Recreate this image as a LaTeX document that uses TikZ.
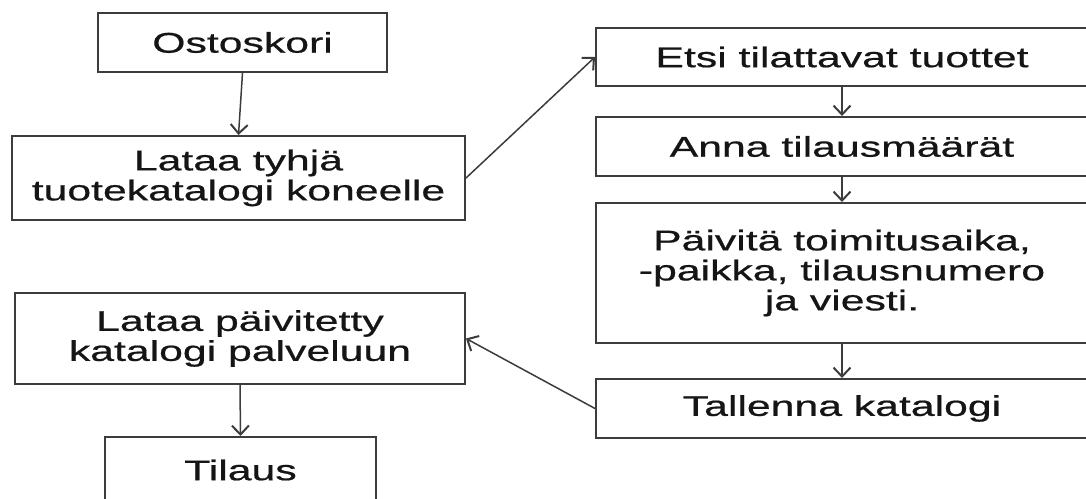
\documentclass[tikz,border=0pt]{standalone}
\usepackage{fontspec}
\setmainfont{Liberation Sans}[FakeStretch=1.5, FakeBold=0.6]
\usetikzlibrary{arrows.meta}
\definecolor{edgegray}{HTML}{3C3C3C}
\definecolor{inkgray}{HTML}{151515}
\tikzset{
  stepbox/.style={draw=edgegray, line width=2pt, fill=white, inner sep=0pt,
    align=center, text=inkgray,
    font=\fontsize{28.5}{30}\selectfont},
  flow/.style={draw=edgegray, line width=1.5pt,
    -{Straight Barb[length=9pt, width=17pt, line width=2pt]}},
}
\begin{document}
\begin{tikzpicture}[x=1pt, y=-1pt]
\useasboundingbox (0,0) rectangle (1086,498);
\fill[white] (0,0) rectangle (1086,498);

% left column
\node[stepbox, minimum width=289pt, minimum height=59pt] (ost) at (242.5,42.5) {Ostoskori};
\node[stepbox, minimum width=453pt, minimum height=84pt] (lt) at (238.5,178) {Lataa tyhjä\\tuotekatalogi koneelle};
\node[stepbox, minimum width=450pt, minimum height=91pt] (lp) at (240,338.5) {Lataa päivitetty\\katalogi palveluun};
\node[stepbox, minimum width=271pt, minimum height=66pt] (til) at (240.5,470) {Tilaus};

% right column
\node[stepbox, minimum width=492pt, minimum height=58pt] (etsi) at (842,57) {Etsi tilattavat tuottet};
\node[stepbox, minimum width=492pt, minimum height=59pt] (anna) at (842,146.5) {Anna tilausmäärät};
\node[stepbox, minimum width=492pt, minimum height=140pt] (paiv) at (842,273) {Päivitä toimitusaika,\\-paikka, tilausnumero\\ja viesti.};
\node[stepbox, minimum width=492pt, minimum height=59pt] (tal) at (842,408.5) {Tallenna katalogi};

% connectors
\draw[flow] (ost.south) -- (lt.north);
\draw[flow] (lt.east) -- (etsi.west);
\draw[flow] (etsi.south) -- (anna.north);
\draw[flow] (anna.south) -- (paiv.north);
\draw[flow] (paiv.south) -- (tal.north);
\draw[flow] (tal.west) -- (lp.east);
\draw[flow] (lp.south) -- (til.north);
\end{tikzpicture}
\end{document}
